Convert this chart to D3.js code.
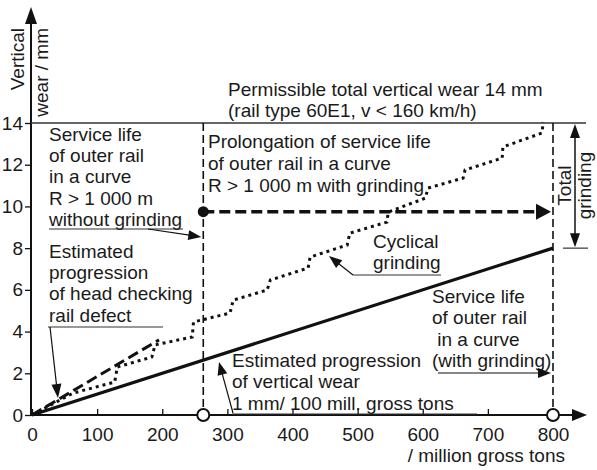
<!DOCTYPE html>
<html>
<head>
<meta charset="utf-8">
<script src="https://cdn.jsdelivr.net/npm/d3@7"></script>
<style>
  body { margin: 0; background: #fff; }
  svg text { font-family: "Liberation Sans", Arial, sans-serif; font-size: 19px; fill: #1a1a1a; }
</style>
</head>
<body>
<script>
var w = 597;
var h = 470;

// axis ticks
var xTicks = [0, 100, 200, 300, 400, 500, 600, 700, 800];
var yTicks = [0, 2, 4, 6, 8, 10, 12, 14];

// series (million gross tons, mm)
var wearLine = [[0, 0], [800, 8]];
var headChecking = [[0, 0], [195, 3.6]];
var cyclical = [
  [0, 0], [63, 1.05], [127, 1.58], [131, 2.3], [184, 2.78], [189, 3.36],
  [246, 3.74], [248, 4.46], [304, 4.89], [309, 5.51], [361, 5.99], [366, 6.47],
  [424, 7.05], [427, 7.57], [484, 8.15], [488, 8.72], [545, 9.25], [547, 9.73],
  [604, 10.4], [608, 10.88], [662, 11.36], [665, 11.75], [722, 12.32], [723, 12.85],
  [783, 13.52], [785, 14.05]
];
var lifeLimits = [263, 800];   // end of service life without / with grinding
var wearLimit = 14;
var grindStartWear = 9.75;
var grindBand = [8, 14];

var x = d3.scaleLinear().domain([0, 800]).range([32, 553]);
var y = d3.scaleLinear().domain([0, 14]).range([415, 123]);

var svg = d3.select('body')
  .append('svg')
  .attr('width', w)
  .attr('height', h);

function arrow(g, x1, y1, x2, y2, len, half, sw) {
  var dx = x2 - x1, dy = y2 - y1;
  var L = Math.sqrt(dx * dx + dy * dy);
  var ux = dx / L, uy = dy / L;
  var bx = x2 - ux * len, by = y2 - uy * len;
  g.append('line')
    .attr('x1', x1).attr('y1', y1)
    .attr('x2', bx + ux).attr('y2', by + uy)
    .attr('stroke', '#111').attr('stroke-width', sw);
  g.append('polygon')
    .attr('points', [
      [x2, y2],
      [bx - uy * half, by + ux * half],
      [bx + uy * half, by - ux * half]
    ].map(function(p) { return p.join(','); }).join(' '))
    .attr('fill', '#111');
}

function lines(g, x0, ys, rows) {
  var t = g.append('text').attr('xml:space', 'preserve');
  rows.forEach(function(r, i) {
    t.append('tspan').attr('x', x0).attr('y', ys[i]).text(r);
  });
  return t;
}

function hline(g, x1, x2, yy, sw) {
  g.append('line')
    .attr('x1', x1).attr('x2', x2).attr('y1', yy).attr('y2', yy)
    .attr('stroke', '#333').attr('stroke-width', sw || 1.2);
}

// axes
var xAxis = svg.append('g')
  .attr('transform', 'translate(0,415)')
  .call(d3.axisBottom(x).tickValues(xTicks).tickSizeInner(-6).tickSizeOuter(0).tickPadding(13));
var yAxis = svg.append('g')
  .attr('transform', 'translate(31,0)')
  .call(d3.axisLeft(y).tickValues(yTicks).tickSizeInner(6).tickSizeOuter(0).tickPadding(2));
[xAxis, yAxis].forEach(function(a) {
  a.select('.domain').remove();
  a.selectAll('line').attr('stroke', '#111').attr('stroke-width', 1.3);
  a.selectAll('text').style('font-size', '19px').attr('fill', '#1a1a1a');
});

var ann = svg.append('g');
arrow(ann, 30, 415, 587, 415, 15, 6, 2);
arrow(ann, 31, 416, 31, 7, 17, 6, 2);

// permissible wear limit
ann.append('line')
  .attr('x1', 31).attr('x2', 586)
  .attr('y1', y(wearLimit)).attr('y2', y(wearLimit))
  .attr('stroke', '#333').attr('stroke-width', 1.3);

// service life verticals
svg.selectAll('line.life')
  .data(lifeLimits)
  .enter()
  .append('line')
  .attr('class', 'life')
  .attr('x1', function(d) { return x(d); })
  .attr('x2', function(d) { return x(d); })
  .attr('y1', y(wearLimit))
  .attr('y2', y(0))
  .attr('stroke', '#111')
  .attr('stroke-width', 1.6)
  .attr('stroke-dasharray', '8,4');

var line = d3.line()
  .x(function(d) { return x(d[0]); })
  .y(function(d) { return y(d[1]); });

svg.append('path')
  .datum(wearLine)
  .attr('d', line)
  .attr('fill', 'none')
  .attr('stroke', '#111')
  .attr('stroke-width', 3.2);

svg.append('path')
  .datum(cyclical)
  .attr('d', line)
  .attr('fill', 'none')
  .attr('stroke', '#111')
  .attr('stroke-width', 3)
  .attr('stroke-dasharray', '3,4');

svg.append('path')
  .datum(headChecking)
  .attr('d', line)
  .attr('fill', 'none')
  .attr('stroke', '#111')
  .attr('stroke-width', 3)
  .attr('stroke-dasharray', '11,5');

// prolongation with grinding
var pg = svg.append('g');
pg.append('line')
  .attr('x1', x(lifeLimits[0])).attr('x2', x(lifeLimits[1]) - 14)
  .attr('y1', y(grindStartWear)).attr('y2', y(grindStartWear))
  .attr('stroke', '#111').attr('stroke-width', 3.5)
  .attr('stroke-dasharray', '11,5');
arrow(pg, x(lifeLimits[1]) - 16, y(grindStartWear), x(lifeLimits[1]) - 2, y(grindStartWear), 15, 8, 3.5);
pg.append('circle')
  .attr('cx', x(lifeLimits[0])).attr('cy', y(grindStartWear))
  .attr('r', 5.5).attr('fill', '#111');

svg.selectAll('circle.end')
  .data(lifeLimits)
  .enter()
  .append('circle')
  .attr('class', 'end')
  .attr('cx', function(d) { return x(d); })
  .attr('cy', y(0))
  .attr('r', 6)
  .attr('fill', '#fff')
  .attr('stroke', '#111')
  .attr('stroke-width', 2);

// total grinding band
var tg = svg.append('g');
var tgx = 575;
var mid = (y(grindBand[0]) + y(grindBand[1])) / 2;
arrow(tg, tgx, mid, tgx, y(grindBand[1]) + 1, 14, 5, 1.5);
arrow(tg, tgx, mid, tgx, y(grindBand[0]) - 1, 14, 5, 1.5);
tg.append('line')
  .attr('x1', 563).attr('x2', 588)
  .attr('y1', y(grindBand[0])).attr('y2', y(grindBand[0]))
  .attr('stroke', '#333').attr('stroke-width', 1.2);
tg.append('text')
  .attr('transform', 'translate(571,' + mid + ') rotate(-90)')
  .attr('text-anchor', 'middle')
  .text('Total');
tg.append('text')
  .attr('transform', 'translate(591,' + mid + ') rotate(-90)')
  .attr('text-anchor', 'middle')
  .text('grinding');

// axis titles
svg.append('text')
  .attr('transform', 'translate(24,28) rotate(-90)')
  .attr('text-anchor', 'end')
  .text('Vertical');
svg.append('text')
  .attr('transform', 'translate(48,28) rotate(-90)')
  .attr('text-anchor', 'end')
  .text('wear / mm');
svg.append('text')
  .attr('x', 565).attr('y', 462)
  .attr('text-anchor', 'end')
  .text('/ million gross tons');

// annotations
var t = svg.append('g');
lines(t, 228, [96, 117], ['Permissible total vertical wear 14 mm', '(rail type 60E1, v < 160 km/h)']);

lines(t, 49, [141, 162, 183, 205, 226],
  ['Service life', 'of outer rail', 'in a curve', 'R > 1 000 m', 'without grinding']);
hline(t, 49, 183, 229);
arrow(t, 148, 229, x(lifeLimits[0]) - 2, 237, 13, 5, 1.2);

lines(t, 49, [258, 279, 300, 322],
  ['Estimated', 'progression', 'of head checking', 'rail defect']);
hline(t, 48, 163, 327);
arrow(t, 50, 327, 58, 398, 14, 5, 1.2);

lines(t, 208, [148, 170, 192],
  ['Prolongation of service life', 'of outer rail in a curve', 'R > 1 000 m with grinding']);

lines(t, 373, [248, 269], ['Cyclical', 'grinding']);
hline(t, 353, 441, 275);
arrow(t, 353, 275, 329, 256, 13, 5, 1.2);

lines(t, 432, [303, 324, 346, 367],
  ['Service life', 'of outer rail', ' in a curve', '(with grinding)']);
arrow(t, 438, 373, x(lifeLimits[1]) - 2, 373, 13, 5, 1.2);

lines(t, 232, [367, 388, 410],
  ['Estimated progression', 'of vertical wear', '1 mm/ 100 mill. gross tons']);
hline(t, 232, 477, 414);
arrow(t, 233, 413, 219, 362, 13, 5, 1.2);
</script>
</body>
</html>
